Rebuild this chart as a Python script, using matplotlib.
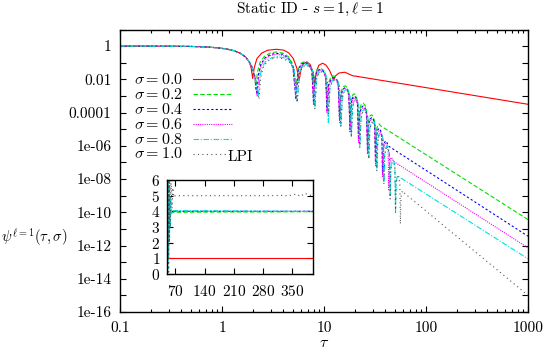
import numpy as np
import matplotlib
matplotlib.use("Agg")
import matplotlib.pyplot as plt
from matplotlib.lines import Line2D
from matplotlib.ticker import NullLocator, LogLocator, NullFormatter

plt.rcParams['font.family'] = 'cmr10'
plt.rcParams['mathtext.fontset'] = 'cm'
plt.rcParams['axes.unicode_minus'] = False
plt.rcParams['axes.formatter.use_mathtext'] = True
plt.rcParams['font.size'] = 11

# values (log10 of psi on the log axis)
tau_early = [0.1, 0.3, 0.5, 0.7, 0.9, 1.1, 1.3, 1.5, 1.7, 1.85]
lpsi_early = [0.0, -0.005, -0.02, -0.05, -0.1, -0.17, -0.27, -0.42, -0.65, -0.95]

tau_s00 = [1.93, 2.0, 2.07, 2.2, 2.45, 2.8, 3.4, 4.0, 4.5, 5.0, 5.4, 5.7, 5.95, 6.3, 6.8, 7.3,
           7.75, 8.1, 8.4, 8.9, 9.7, 10.5, 11.3, 12.0, 12.4, 12.9, 14.0, 16.0, 17.5, 19.3, 21.0, 1000]
lpsi_s00 = [-1.3, -1.95, -1.3, -0.75, -0.42, -0.25, -0.19, -0.24, -0.4, -0.75, -1.3, -2.07, -1.4,
            -1.05, -0.95, -1.1, -1.5, -2.33, -1.55, -1.15, -1.03, -1.15, -1.45, -1.8, -2.03, -1.8,
            -1.62, -1.57, -1.68, -1.79, -1.82, -3.5]

tau_s02 = [1.97, 2.08, 2.15, 2.22, 2.35, 2.6, 2.95, 3.4, 3.95, 4.5, 4.95, 5.3, 5.6, 6.0, 6.5, 7.1,
           7.6, 7.9, 8.2, 8.6, 9.2, 9.9, 10.4, 10.7, 11.1, 11.7, 12.4, 13.2, 13.8, 14.2, 14.7, 15.3,
           16.1, 16.9, 17.5, 18.0, 18.5, 19.1, 19.8, 20.6, 21.3, 21.8, 22.4, 23.2, 24.2, 25.2, 26.1,
           26.7, 27.3, 28.2, 29.3, 30.4, 31.4, 32.0, 32.7, 33.6, 34.7, 36.0, 1000]
lpsi_s02 = [-1.25, -1.7, -2.6, -1.6, -1.0, -0.62, -0.42, -0.35, -0.42, -0.65, -1.1, -2.5, -1.35,
            -1.02, -0.93, -1.05, -1.4, -3.0, -1.75, -1.42, -1.33, -1.45, -1.8, -3.5, -2.2, -1.85,
            -1.79, -1.9, -2.2, -4.0, -2.8, -2.45, -2.39, -2.5, -2.8, -4.6, -3.3, -2.95, -2.87, -3.0,
            -3.3, -5.2, -3.85, -3.5, -3.43, -3.55, -3.85, -5.8, -4.55, -4.2, -4.13, -4.25, -4.55,
            -6.3, -5.1, -4.75, -4.68, -4.8, -10.44]

tau_s04 = [1.97, 2.1, 2.2, 2.28, 2.4, 2.65, 3.0, 3.4, 3.95, 4.5, 4.95, 5.3, 5.6, 6.0, 6.5, 7.1, 7.6,
           7.9, 8.2, 8.6, 9.2, 9.9, 10.4, 10.7, 11.1, 11.7, 12.4, 13.2, 13.8, 14.2, 14.7, 15.3, 16.1,
           16.9, 17.5, 18.0, 18.5, 19.1, 19.8, 20.6, 21.3, 21.8, 22.4, 23.2, 24.2, 25.2, 26.1, 26.7,
           27.3, 28.2, 29.3, 30.4, 31.4, 32.0, 32.7, 33.6, 34.7, 35.8, 36.9, 37.5, 38.2, 39.2, 40.3,
           41.4, 42.5, 1000]
lpsi_s04 = [-1.25, -1.8, -2.9, -1.7, -1.1, -0.7, -0.5, -0.43, -0.5, -0.73, -1.2, -3.1, -1.43, -1.08,
            -0.98, -1.1, -1.45, -3.4, -1.85, -1.5, -1.4, -1.52, -1.87, -3.9, -2.35, -2.0, -1.9, -2.0,
            -2.33, -4.4, -2.95, -2.6, -2.5, -2.6, -2.93, -5.0, -3.45, -3.1, -3.0, -3.1, -3.43, -5.6,
            -4.05, -3.7, -3.6, -3.7, -4.03, -6.3, -4.75, -4.4, -4.3, -4.4, -4.73, -7.0, -5.4, -5.05,
            -4.95, -5.05, -5.38, -7.7, -6.1, -5.8, -5.7, -5.8, -6.0, -11.44]

tau_s06 = [1.97, 2.1, 2.21, 2.3, 2.42, 2.67, 3.0, 3.4, 3.95, 4.5, 4.95, 5.3, 5.6, 6.0, 6.5, 7.1, 7.6,
           7.9, 8.2, 8.6, 9.2, 9.9, 10.4, 10.7, 11.1, 11.7, 12.4, 13.2, 13.8, 14.2, 14.7, 15.3, 16.1,
           16.9, 17.5, 18.0, 18.5, 19.1, 19.8, 20.6, 21.3, 21.8, 22.4, 23.2, 24.2, 25.2, 26.1, 26.7,
           27.3, 28.2, 29.3, 30.4, 31.4, 32.0, 32.7, 33.6, 34.7, 35.8, 36.9, 37.5, 38.2, 39.2, 40.3,
           41.4, 42.5, 43.2, 43.9, 44.9, 46.0, 47.0, 47.9, 1000]
lpsi_s06 = [-1.27, -1.85, -3.0, -1.75, -1.15, -0.75, -0.56, -0.49, -0.56, -0.78, -1.25, -3.2, -1.47,
            -1.12, -1.02, -1.14, -1.5, -3.55, -1.9, -1.55, -1.45, -1.57, -1.92, -4.0, -2.4, -2.05,
            -1.95, -2.05, -2.38, -4.6, -3.0, -2.65, -2.55, -2.65, -2.98, -5.2, -3.55, -3.2, -3.1,
            -3.2, -3.53, -5.8, -4.15, -3.8, -3.7, -3.8, -4.13, -6.5, -4.85, -4.5, -4.4, -4.5, -4.83,
            -7.2, -5.55, -5.2, -5.1, -5.2, -5.53, -7.9, -6.3, -5.95, -5.85, -5.95, -6.28, -8.7, -7.15,
            -6.8, -6.7, -6.8, -6.93, -12.14]

tau_s08 = [1.97, 2.12, 2.27, 2.36, 2.5, 2.75, 3.1, 3.5, 4.05, 4.65, 5.1, 5.46, 5.77, 6.18, 6.7, 7.31,
           7.83, 8.14, 8.45, 8.86, 9.48, 10.2, 10.71, 11.02, 11.43, 12.05, 12.77, 13.6, 14.21, 14.63,
           15.14, 15.76, 16.58, 17.41, 18.03, 18.54, 19.06, 19.67, 20.39, 21.22, 21.94, 22.45, 23.07,
           23.9, 24.93, 25.96, 26.88, 27.5, 28.12, 29.05, 30.18, 31.31, 32.34, 32.96, 33.68, 34.61,
           35.74, 36.87, 38.01, 38.63, 39.35, 40.38, 41.51, 42.64, 43.78, 44.5, 45.22, 46.25, 47.38,
           48.51, 49.54, 50.26, 50.99, 52.02, 53.15, 55.5, 1000]
lpsi_s08 = [-1.3, -1.9, -3.0, -1.8, -1.2, -0.85, -0.69, -0.63, -0.7, -0.92, -1.4, -3.3, -1.55, -1.2,
            -1.1, -1.22, -1.55, -3.7, -1.95, -1.6, -1.5, -1.6, -1.95, -4.6, -2.45, -2.1, -2.0, -2.1,
            -2.43, -4.8, -3.05, -2.7, -2.6, -2.7, -3.03, -5.4, -3.65, -3.3, -3.2, -3.3, -3.63, -6.0,
            -4.25, -3.9, -3.8, -3.9, -4.23, -6.7, -4.95, -4.6, -4.5, -4.6, -4.93, -7.4, -5.65, -5.3,
            -5.2, -5.3, -5.63, -8.2, -6.45, -6.1, -6.0, -6.1, -6.43, -9.0, -7.3, -6.95, -6.85, -6.95,
            -7.28, -9.9, -8.2, -7.88, -7.8, -7.9, -12.8]

tau_s10 = [1.97, 2.14, 2.3, 2.4, 2.55, 2.8, 3.1, 3.5, 4.05, 4.65, 5.1, 5.46, 5.77, 6.18, 6.7, 7.31,
           7.83, 8.14, 8.45, 8.86, 9.48, 10.2, 10.71, 11.02, 11.43, 12.05, 12.77, 13.6, 14.21, 14.63,
           15.14, 15.76, 16.58, 17.41, 18.03, 18.54, 19.06, 19.67, 20.39, 21.22, 21.94, 22.45, 23.07,
           23.9, 24.93, 25.96, 26.88, 27.5, 28.12, 29.05, 30.18, 31.31, 32.34, 32.96, 33.68, 34.61,
           35.74, 36.87, 38.01, 38.63, 39.35, 40.38, 41.51, 42.64, 43.78, 44.5, 45.22, 46.25, 47.38,
           48.51, 49.54, 50.26, 50.99, 52.02, 53.15, 54.3, 55.4, 56.1, 56.8, 57.9, 59.2, 61.5, 1000]
lpsi_s10 = [-1.32, -1.95, -3.2, -1.85, -1.25, -0.9, -0.76, -0.7, -0.77, -0.99, -1.45, -3.4, -1.6,
            -1.25, -1.15, -1.27, -1.6, -3.8, -2.0, -1.65, -1.55, -1.65, -2.0, -4.1, -2.5, -2.15,
            -2.05, -2.15, -2.48, -4.85, -3.1, -2.75, -2.65, -2.75, -3.08, -5.5, -3.7, -3.35, -3.25,
            -3.35, -3.68, -6.1, -4.35, -4.0, -3.9, -4.0, -4.33, -6.8, -5.05, -4.7, -4.6, -4.7, -5.03,
            -7.5, -5.75, -5.4, -5.3, -5.4, -5.73, -8.3, -6.55, -6.2, -6.1, -6.2, -6.53, -9.2, -7.4,
            -7.05, -6.95, -7.05, -7.38, -10.0, -8.3, -7.95, -7.85, -7.95, -8.3, -10.7, -9.15, -8.8,
            -8.7, -8.85, -15.0]

# inset: local power index
ins_x_s00 = [50, 400]
ins_y_s00 = [1.0, 1.0]
ins_x_s02 = [50, 51, 52, 54, 56, 58, 60, 64, 70, 120, 200, 280, 350, 400]
ins_y_s02 = [3.0, 4.4, 3.6, 4.2, 3.85, 4.05, 3.95, 3.93, 3.94, 3.95, 3.96, 3.96, 3.97, 3.98]
ins_x_s04 = [50, 51, 52, 53, 55, 57, 60, 65, 400]
ins_y_s04 = [1.0, 4.5, 2.0, 4.3, 3.7, 4.1, 3.98, 4.0, 4.0]
ins_x_s06 = [50, 52, 54, 56, 58, 61, 66, 400]
ins_y_s06 = [2.0, 4.6, 3.2, 4.3, 3.8, 4.05, 4.0, 4.0]
ins_x_s08 = [50, 51, 52, 53, 54, 55, 56, 57, 58, 59, 61, 64, 400]
ins_y_s08 = [0.0, 6.0, 0.3, 6.0, 1.0, 5.5, 2.2, 5.0, 3.0, 4.6, 3.8, 4.05, 4.0]
ins_x_s10 = [50, 51, 52, 53, 54, 55, 56, 57, 58, 60, 62, 64, 66, 70, 100, 200, 300, 330, 340, 350,
             360, 370, 380, 390, 400]
ins_y_s10 = [0, 6, 1, 6, 0, 6, 2, 6, 3, 5.8, 4.2, 5.5, 4.9, 5.0, 5.0, 5.0, 5.0, 5.02, 4.98, 5.05,
             5.1, 4.95, 5.15, 5.05, 5.0]

labels = [r'$\sigma = 0.0$', r'$\sigma = 0.2$', r'$\sigma = 0.4$',
          r'$\sigma = 0.6$', r'$\sigma = 0.8$', r'$\sigma = 1.0$']
colors = ['#ff0000', '#00e000', '#0000ff', '#ff00ff', '#00e0e0', '#555555']
dashes = [(None, None), (4, 2), (2, 2), (1, 1), (5, 1.5, 1, 1.5), (1, 3)]

curves = [(tau_s00, lpsi_s00), (tau_s02, lpsi_s02), (tau_s04, lpsi_s04),
          (tau_s06, lpsi_s06), (tau_s08, lpsi_s08), (tau_s10, lpsi_s10)]
inset = [(ins_x_s00, ins_y_s00), (ins_x_s02, ins_y_s02), (ins_x_s04, ins_y_s04),
         (ins_x_s06, ins_y_s06), (ins_x_s08, ins_y_s08), (ins_x_s10, ins_y_s10)]

W, H = 545, 354
fig = plt.figure(figsize=(W/100, H/100), dpi=100)
ax = fig.add_axes([120/W, 1-312/H, 408/W, 282.5/H])

def style(line, i):
    if dashes[i][0] is not None:
        line.set_dashes(dashes[i])

for i, (t, lp) in enumerate(curves):
    tt = np.array(tau_early + t)
    yy = 10.0**np.array(lpsi_early + lp)
    ln, = ax.plot(tt, yy, color=colors[i], lw=0.8)
    style(ln, i)

ax.set_xscale('log')
ax.set_yscale('log')
ax.set_xlim(0.1, 1000)
ax.set_ylim(1e-16, 10)
ax.set_xticks([0.1, 1, 10, 100, 1000], ['0.1', '1', '10', '100', '1000'])
ax.xaxis.set_minor_locator(LogLocator(base=10, subs=np.arange(2, 10)))
ax.xaxis.set_minor_formatter(NullFormatter())
yt = [10.0**k for k in range(-16, 2)]
ylab = {0: '1', -2: '0.01', -4: '0.0001', -6: '1e-06', -8: '1e-08', -10: '1e-10',
        -12: '1e-12', -14: '1e-14', -16: '1e-16'}
ax.set_yticks(yt, [ylab.get(k, '') for k in range(-16, 2)])
ax.yaxis.set_minor_locator(NullLocator())
ax.tick_params(which='both', direction='in', top=True, right=True, width=0.8)
ax.tick_params(which='major', length=4)
ax.tick_params(axis='x', which='major', pad=7)
ax.tick_params(axis='y', which='major', pad=6)
ax.tick_params(which='minor', length=2.2)
for s in ax.spines.values():
    s.set_linewidth(1.0)

# inset
axi = fig.add_axes([167/W, 1-274/H, 146/W, 94/H])
for i, (x, y) in enumerate(inset):
    ln, = axi.plot(x, y, color=colors[i], lw=0.8)
    style(ln, i)
axi.set_xlim(50, 400)
axi.set_ylim(0, 6)
axi.set_xticks([70, 140, 210, 280, 350])
axi.set_yticks([0, 1, 2, 3, 4, 5, 6])
axi.tick_params(direction='in', top=True, right=True, length=4, width=0.8)
axi.tick_params(axis='x', pad=7)
axi.tick_params(axis='y', pad=5)
for s in axi.spines.values():
    s.set_linewidth(1.0)

# legend drawn gnuplot-style: text, then line sample
rows = [79.3, 94.3, 109.3, 124.3, 139.2, 154.0]
for i in range(6):
    yf = 1 - rows[i]/H
    fig.text(183/W, yf, labels[i], ha='right', va='center', fontsize=11.5)
    ln = Line2D([193/W, 233/W], [yf, yf], transform=fig.transFigure, color=colors[i], lw=0.8)
    style(ln, i)
    fig.add_artist(ln)
fig.text(228/W, 1-157/H, 'LPI', ha='left', va='center', fontsize=11)

fig.text(310/W, 1-9/H, r'Static ID - $s=1,\ell=1$', ha='center', va='center', fontsize=11)
fig.text(1/W, 1-237/H, r'$\psi^{\ell=1}(\tau,\sigma)$', ha='left', va='center', fontsize=10.5)
fig.text(324/W, 1-343/H, r'$\tau$', ha='center', va='center', fontsize=11.5)

fig.savefig('out.png', dpi=100)
